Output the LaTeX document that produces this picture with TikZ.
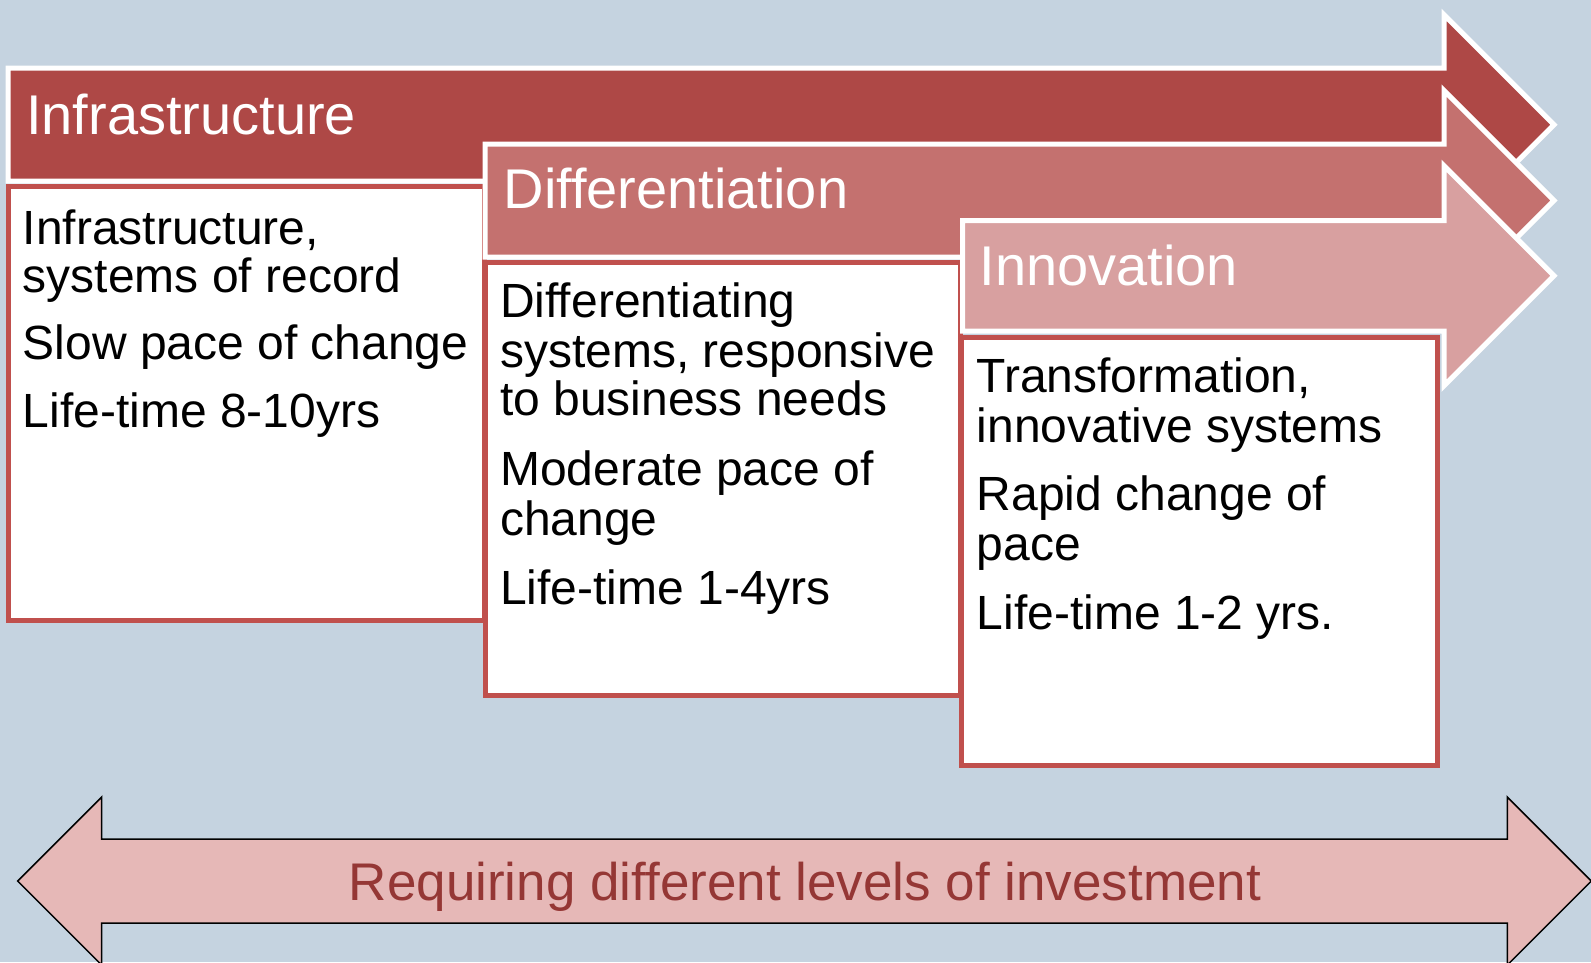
\documentclass[tikz,border=0pt]{standalone}
\usepackage{fontspec}
\setmainfont{Liberation Sans}
\definecolor{bg}{RGB}{197,211,224}
\definecolor{barA}{RGB}{174,72,70}
\definecolor{barB}{RGB}{196,113,111}
\definecolor{barC}{RGB}{216,160,160}
\definecolor{boxred}{RGB}{192,80,77}
\definecolor{pinkfill}{RGB}{230,184,183}
\definecolor{darkred}{RGB}{149,55,53}
\tikzset{
  barshape/.style={draw=white, line width=5pt, line join=miter},
  boxshape/.style={draw=boxred, fill=white, line width=5pt},
  titletext/.style={anchor=base west, inner sep=0pt, text=white, font=\fontsize{56}{60}\selectfont},
  bodytext/.style={anchor=base west, inner sep=0pt, text=black, font=\fontsize{48}{50}\selectfont},
  investtext/.style={anchor=base, inner sep=0pt, text=darkred, font=\fontsize{53}{56}\selectfont},
}
\begin{document}
\begin{tikzpicture}[x=1pt,y=-1pt]
\useasboundingbox (0,0) rectangle (1591,962);
\clip (0,0) rectangle (1591,962);
\fill[bg] (0,0) rectangle (1591,962);

% bar 1
\filldraw[barshape, fill=barA] (8,68) -- (1444,68) -- (1444,14.75) -- (1554,124.75) -- (1444,234.75) -- (1444,181) -- (8,181) -- cycle;
\node[titletext] (t1) at (26,134) {Infrastructure};
% box 1
\draw[boxshape] (8.5,186.5) rectangle (484.5,620.5);
\node[bodytext] (b1a) at (22.5,244) {Infrastructure,};
\node[bodytext] (b1b) at (22.5,292.5) {systems of record};
\node[bodytext] (b1c) at (22.5,359.2) {Slow pace of change};
\node[bodytext] (b1d) at (22.5,427.5) {Life-time 8-10yrs};

% bar 2
\filldraw[barshape, fill=barB] (485,144) -- (1444,144) -- (1444,90.5) -- (1554,200.5) -- (1444,310.5) -- (1444,257) -- (485,257) -- cycle;
\node[titletext] (t2) at (503.5,208.3) {Differentiation};
% box 2
\draw[boxshape] (485.5,262.5) rectangle (960.5,695.5);
\node[bodytext] (b2a) at (500,317.5) {Differentiating};
\node[bodytext] (b2b) at (500,367.5) {systems, responsive};
\node[bodytext] (b2c) at (500,415.8) {to business needs};
\node[bodytext] (b2d) at (500,485.8) {Moderate pace of};
\node[bodytext] (b2e) at (500,535.8) {change};
\node[bodytext] (b2f) at (500,604.2) {Life-time 1-4yrs};

% bar 3
\filldraw[barshape, fill=barC] (962.5,220.5) -- (1444,220.5) -- (1444,165.75) -- (1554,275.75) -- (1444,385.75) -- (1444,331) -- (962.5,331) -- cycle;
\node[titletext] (t3) at (979.5,285) {Innovation};
% box 3
\draw[boxshape] (961.5,337.5) rectangle (1437.5,765);
\node[bodytext] (b3a) at (976.5,392.5) {Transformation,};
\node[bodytext] (b3b) at (976.5,442.5) {innovative systems};
\node[bodytext] (b3c) at (976.5,510.8) {Rapid change of};
\node[bodytext] (b3d) at (976.5,560.8) {pace};
\node[bodytext] (b3e) at (976.5,629.2) {Life-time 1-2 yrs.};

% bottom double arrow
\filldraw[fill=pinkfill, draw=black, line width=1.5pt, line join=miter]
  (17.7,881) -- (101.7,797) -- (101.7,839) -- (1507.3,839) -- (1507.3,797) -- (1591.3,881)
  -- (1507.3,965) -- (1507.3,923) -- (101.7,923) -- (101.7,965) -- cycle;
\node[investtext] (inv) at (805,900) {Requiring different levels of investment};
\end{tikzpicture}
\end{document}
